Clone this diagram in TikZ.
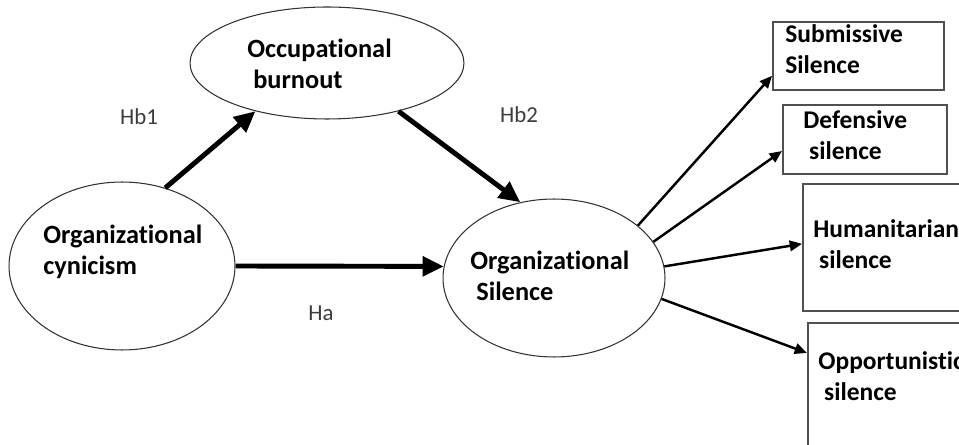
\documentclass[tikz,border=0pt]{standalone}
\usepackage{fontspec}
\setmainfont{Carlito}[Ligatures={NoCommon,NoContextual,NoRare}]
\usetikzlibrary{shapes.geometric,arrows.meta}

% Define colors
\definecolor{ellipseline}{RGB}{50,50,50}
\definecolor{boxline}{RGB}{80,80,80}
\definecolor{hyptext}{RGB}{60,60,60}

\begin{document}
\begin{tikzpicture}[x=0.02cm,y=-0.02cm,
    construct/.style={draw=ellipseline, line width=0.6pt, ellipse, inner sep=0pt},
    silencebox/.style={draw=boxline, line width=1pt, rectangle, anchor=north west, inner sep=0pt},
    nodetext/.style={font=\bfseries\fontsize{15}{18}\selectfont, align=left, anchor=west, inner sep=0pt},
    boxtext/.style={nodetext, font=\bfseries\fontsize{14.5}{18}\selectfont},
    hyp/.style={text=hyptext, font=\fontsize{13}{15}\selectfont},
    mainpath/.style={line width=2.8pt, -{Triangle[length=12pt,width=11pt]}},
    formpath/.style={line width=1.4pt, -{Triangle[length=7pt,width=6pt]}}]

      % Frame
      \path[use as bounding box, clip] (0,0) rectangle (959,445);

      % Constructs
      \node[construct, minimum width=5.48cm, minimum height=2.24cm] (burnout) at (327,63) {};
      \node[construct, minimum width=4.52cm, minimum height=3.36cm] (cynicism) at (122,266) {};
      \node[construct, minimum width=4.44cm, minimum height=3.16cm] (silence) at (554,278) {};

      \node[nodetext] (burnouttext) at (247,64) {Occupational\\\ burnout};
      \node[nodetext] (cynicismtext) at (43,252) {Organizational\\cynicism};
      \node[nodetext] (silencetext) at (470,276) {Organizational\\\ Silence};

      % Forms of silence
      \node[silencebox, minimum width=3.42cm, minimum height=1.36cm] (submissive) at (772,21) {};
      \node[silencebox, minimum width=3.28cm, minimum height=1.38cm] (defensive) at (782,104) {};
      \node[silencebox, minimum width=4cm, minimum height=2.54cm] (humanitarian) at (802,183) {};
      \node[silencebox, minimum width=4cm, minimum height=3cm] (opportunistic) at (807,322) {};

      \node[boxtext] (submissivetext) at (785,49) {Submissive\\Silence};
      \node[boxtext] (defensivetext) at (803,135) {Defensive\\\ silence};
      \node[boxtext] (humanitariantext) at (813,244) {Humanitarian\\\ silence};
      \node[boxtext] (opportunistictext) at (818,376) {Opportunistic\\\ silence};

      % Hypotheses
      \draw[mainpath] (cynicism.61) -- (burnout.214);
      \draw[mainpath] (burnout.326) -- (silence.114);
      \draw[mainpath] (cynicism.east) -- (silence.174);

      \node[hyp] (hbone) at (139,117) {Hb1};
      \node[hyp] (hbtwo) at (519,115) {Hb2};
      \node[hyp] (ha) at (321,313) {Ha};

      % Silence forms
      \draw[formpath] (silence.32) -- (submissive.193);
      \draw[formpath] (silence.20) -- (defensive.188);
      \draw[formpath] (silence.6) -- (humanitarian.178);
      \draw[formpath] (silence.349) -- (opportunistic.156);

\end{tikzpicture}
\end{document}
